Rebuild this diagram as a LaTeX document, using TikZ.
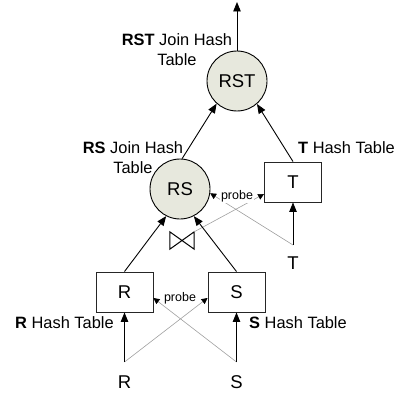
\documentclass[tikz,border=0pt]{standalone}
\usepackage{fontspec}
\setmainfont{Liberation Sans}
\usetikzlibrary{arrows.meta}
\definecolor{circfill}{RGB}{231,232,221}
\definecolor{probegray}{RGB}{160,160,160}
\begin{document}
\begin{tikzpicture}[x=1pt,y=-1pt,
  opcirc/.style={circle,draw=black,line width=0.9pt,fill=circfill,minimum size=60pt,inner sep=0pt,font=\fontsize{18.5}{20}\selectfont},
  tablebox/.style={rectangle,draw=black!85,line width=0.9pt,fill=white,minimum width=57pt,minimum height=40pt,inner sep=0pt,font=\fontsize{18.5}{20}\selectfont},
  srclabel/.style={inner sep=0pt,font=\fontsize{18.5}{20}\selectfont},
  annot/.style={inner sep=0pt,align=center,font=\fontsize{16.4}{20}\selectfont},
  flow/.style={line width=0.9pt,-{Triangle[length=9.5pt,width=7.5pt]}},
  probeline/.style={draw=probegray,line width=0.6pt,-{Triangle[length=6pt,width=6pt,color=black]}},
  probelabel/.style={fill=white,inner sep=1pt,font=\fontsize{12.5}{13}\selectfont}
]
\useasboundingbox (0,0) rectangle (399,396);
% operators and tables
\node[opcirc] (RST) at (237,81) {RST};
\node[opcirc] (RS) at (180,189) {RS};
\node[tablebox] (T) at (293,182) {T};
\node[tablebox] (R) at (124.5,292) {R};
\node[tablebox] (S) at (236.5,292) {S};
% sources
\node[srclabel] (Rl) at (124.5,382) {R};
\node[srclabel] (Sl) at (236.5,382) {S};
\node[srclabel] (Tl) at (293,263) {T};
\coordinate (Rin) at (124.5,362);
\coordinate (Sin) at (236.5,362);
\coordinate (Tin) at (293,245);
\coordinate (out) at (237,2);
% join symbol
\node[minimum width=24pt,minimum height=17pt,inner sep=0pt] (bt) at (182,240.5) {};
\draw[line width=1pt,line join=miter] (bt.north west) -- (bt.south east) -- (bt.north east) -- (bt.south west) -- cycle;
% probe lines
\draw[probeline] (Tin) -- (RS.352);
\draw[probeline] (bt.north east) -- ([yshift=-12pt]T.west);
\draw[probeline] (Rin) -- ([yshift=-6pt]S.west);
\draw[probeline] (Sin) -- ([yshift=-6pt]R.east);
\node[probelabel] (p1) at (237,196) {probe};
\node[probelabel] (p2) at (180,298) {probe};
% data flow
\draw[flow] (Rin) -- (R.south);
\draw[flow] (Sin) -- (S.south);
\draw[flow] (Tin) -- (T.south);
\draw[flow] (R.north) -- (RS.243);
\draw[flow] (S.north) -- (RS.297);
\draw[flow] (RS.86) -- (RST.228);
\draw[flow] (T.north) -- (RST.311);
\draw[flow] (RST.north) -- (out);
% annotations
\node[annot] (lRST) at (177,50) {\textbf{RST} Join Hash\\Table};
\node[annot] (lRS) at (133,158) {\textbf{RS} Join Hash\\Table};
\node[annot,anchor=west] (lT) at (298,148) {\textbf{T} Hash Table};
\node[annot,anchor=west] (lR) at (15,323) {\textbf{R} Hash Table};
\node[annot,anchor=west] (lS) at (249,323) {\textbf{S} Hash Table};
\end{tikzpicture}
\end{document}
